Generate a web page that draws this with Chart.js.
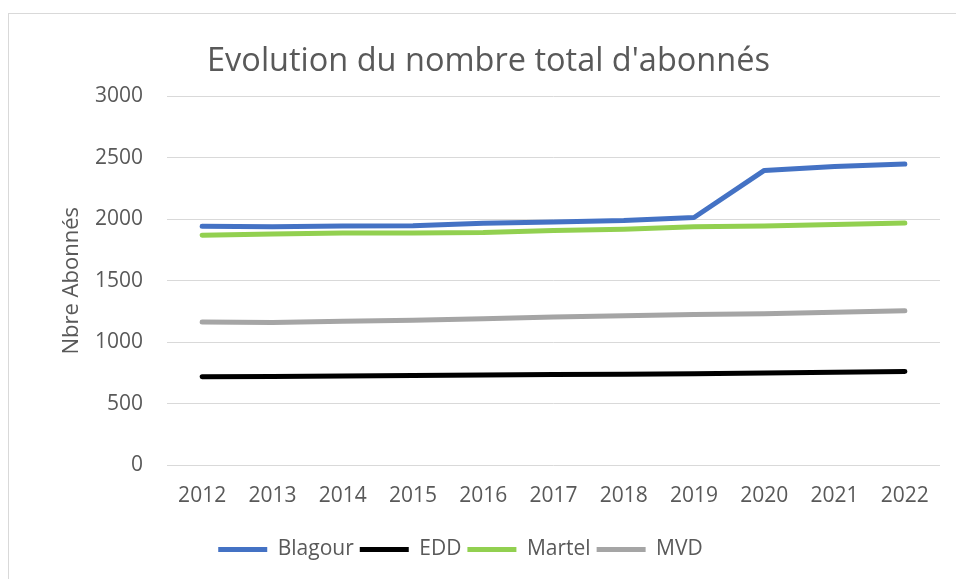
<!DOCTYPE html>
<html>
<head>
<meta charset="utf-8">
<script src="https://cdn.jsdelivr.net/npm/chart.js@4"></script>
<style>
  html, body { margin: 0; padding: 0; background: #fff; }
  #wrap { position: relative; width: 956px; height: 579px; }
</style>
</head>
<body>
<div id="wrap"><canvas id="c" width="956" height="579"></canvas></div>
<script>
const years = ['2012','2013','2014','2015','2016','2017','2018','2019','2020','2021','2022'];
const blagour = [1943, 1940, 1945, 1947, 1968, 1978, 1990, 2015, 2398, 2430, 2450];
const edd     = [718, 720, 725, 728, 732, 736, 738, 742, 748, 756, 762];
const martel  = [1870, 1880, 1888, 1888, 1892, 1910, 1920, 1940, 1945, 1958, 1970];
const mvd     = [1165, 1160, 1170, 1178, 1190, 1205, 1215, 1225, 1232, 1243, 1255];
const yTicks  = [0, 500, 1000, 1500, 2000, 2500, 3000];

const FONT = "'Open Sans', 'Liberation Sans', sans-serif";
const TXT = '#595959';

const framePlugin = {
  id: 'frame',
  beforeDraw(chart) {
    const ctx = chart.ctx;
    ctx.save();
    ctx.fillStyle = '#fff';
    ctx.fillRect(0, 0, chart.width, chart.height);
    ctx.strokeStyle = '#d9d9d9';
    ctx.lineWidth = 1;
    ctx.strokeRect(8.5, 13.5, 2000, 2000);
    ctx.restore();
  },
  afterLayout(chart) {
    // shift title and legend horizontally to match the original placement
    if (chart.titleBlock) { chart.titleBlock.left -= 11; chart.titleBlock.right -= 11; }
    if (chart.legend) { chart.legend.left -= 39; chart.legend.right -= 39; }
  }
};

function ds(label, data, color) {
  return {
    label, data,
    borderColor: color, backgroundColor: color,
    borderWidth: 5, pointRadius: 0, tension: 0,
    borderCapStyle: 'round', borderJoinStyle: 'round'
  };
}

new Chart(document.getElementById('c'), {
  type: 'line',
  data: {
    labels: years,
    datasets: [
      ds('Blagour', blagour, '#4472C4'),
      ds('EDD', edd, '#000000'),
      ds('Martel', martel, '#92D050'),
      ds('MVD', mvd, '#A5A5A5')
    ]
  },
  plugins: [framePlugin],
  options: {
    responsive: false,
    animation: false,
    layout: { padding: { left: 59, right: 16, top: 0, bottom: 9 } },
    plugins: {
      title: {
        display: true,
        text: "Evolution du nombre total d'abonnés",
        color: TXT,
        font: { family: FONT, size: 32.5, weight: 'normal' },
        padding: { top: 42, bottom: 15.5 }
      },
      legend: {
        position: 'bottom',
        labels: {
          color: TXT,
          font: { family: FONT, size: 21 },
          boxWidth: 49,
          boxHeight: 5,
          padding: 6,
          generateLabels(chart) {
            return chart.data.datasets.map((d, i) => ({
              text: d.label,
              fillStyle: d.borderColor,
              strokeStyle: d.borderColor,
              lineWidth: 0,
              fontColor: TXT,
              datasetIndex: i,
              hidden: false
            }));
          }
        }
      },
      tooltip: { enabled: false }
    },
    scales: {
      x: {
        offset: true,
        afterFit(scale) { scale.height = 68; },
        grid: { display: false, drawTicks: false },
        border: { display: false },
        ticks: { color: TXT, font: { family: FONT, size: 21 }, padding: 18, maxRotation: 0, autoSkip: false }
      },
      y: {
        min: 0, max: 3000,
        afterBuildTicks(scale) { scale.ticks = yTicks.map(v => ({ value: v })); },
        afterFit(scale) { scale.width = 108; },
        grid: { color: '#d9d9d9', lineWidth: 1, drawTicks: false },
        border: { display: false },
        ticks: { color: TXT, font: { family: FONT, size: 21 }, padding: 24, callback: v => String(v) },
        title: {
          display: true, text: 'Nbre Abonnés', color: TXT,
          font: { family: FONT, size: 22 }, padding: 0
        }
      }
    }
  }
});
</script>
</body>
</html>
